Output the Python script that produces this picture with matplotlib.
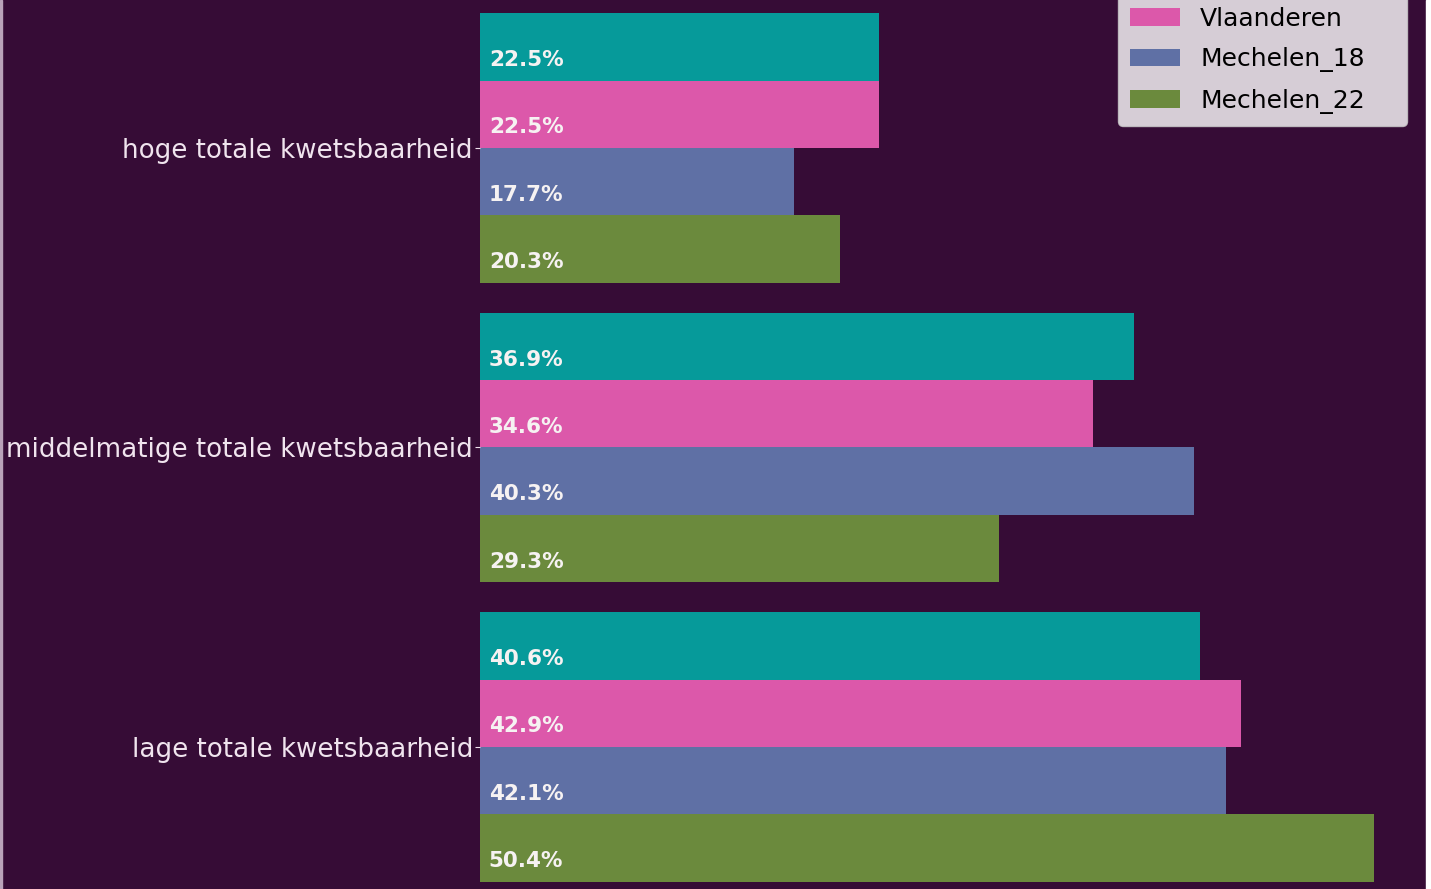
import matplotlib
matplotlib.use("Agg")
import matplotlib.pyplot as plt
from matplotlib.patches import Rectangle
import numpy as np

# data
categories = ["hoge totale kwetsbaarheid",
              "middelmatige totale kwetsbaarheid",
              "lage totale kwetsbaarheid"]
series = ["Centrumsteden", "Vlaanderen", "Mechelen_18", "Mechelen_22"]
centrumsteden = [22.5, 36.9, 40.6]
vlaanderen = [22.5, 34.6, 42.9]
mechelen_18 = [17.7, 40.3, 42.1]
mechelen_22 = [20.3, 29.3, 50.4]
values = [centrumsteden, vlaanderen, mechelen_18, mechelen_22]
colors = ["#069a9a", "#dc58aa", "#5f70a5", "#6b8a3d"]

bg = "#360c36"

fig = plt.figure(figsize=(14.31, 8.89), dpi=100, facecolor=bg)
ax = fig.add_axes([480 / 1431, -0.00872, 946 / 1431, 1.0107])
ax.set_facecolor(bg)

y = np.arange(len(categories))
h = 0.225
for i, (name, vals) in enumerate(zip(series, values)):
    pos = y - 0.45 + h / 2 + i * h
    ax.barh(pos, vals, height=h, color=colors[i], label=name)
    for p, v in zip(pos, vals):
        ax.text(0.5, p + 0.044, f"{v}%", va="center", ha="left",
                color="#f6f2f2", fontsize=15.5, fontweight="bold")

ax.set_ylim(2.5, -0.5)
ax.set_xlim(0, 53.36)
ax.set_yticks(y)
ax.set_yticklabels(categories, fontsize=18.8, color="#f0e4ee")
ax.tick_params(axis="y", colors="#f0e4ee", length=3.6, pad=1.5)
ax.set_xticks([])
for s in ax.spines.values():
    s.set_visible(False)

ax.legend(loc="lower right", bbox_to_anchor=(1407 / 1431, (889 - 126) / 889),
          bbox_transform=fig.transFigure, borderaxespad=0, fontsize=18,
          labelspacing=0.66, borderpad=0.5)

# screenshot edges
fig.patches.append(Rectangle((1426 / 1431, 0), 5 / 1431, 1, transform=fig.transFigure,
                             color="white", zorder=10))
fig.patches.append(Rectangle((0, 0), 2 / 1431, 1, transform=fig.transFigure,
                             color="#b9a3b9", zorder=10))

fig.savefig("out.png", dpi=100, facecolor=bg)
